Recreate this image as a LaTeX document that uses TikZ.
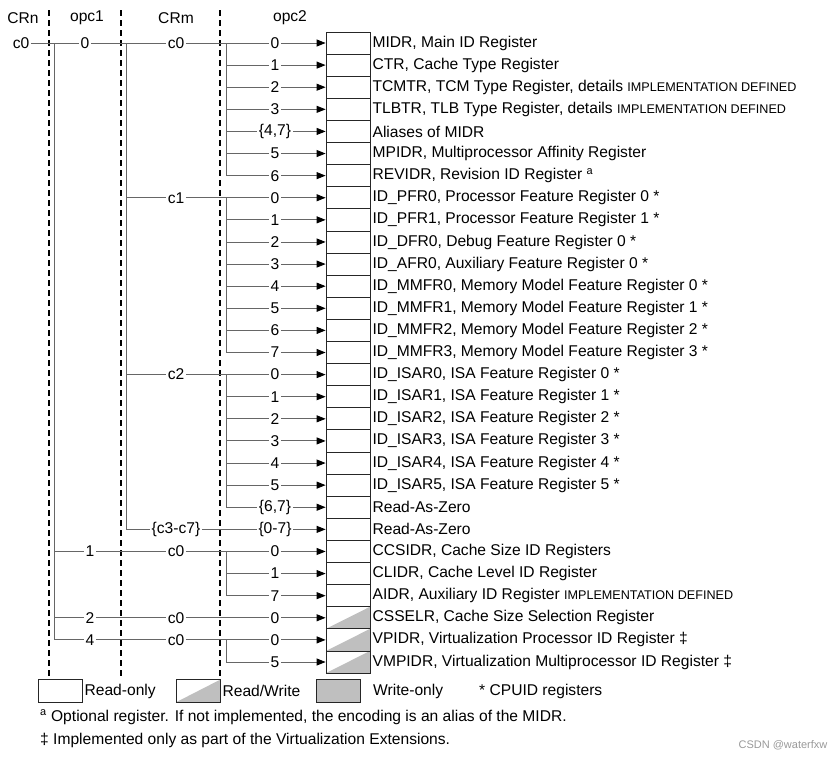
\documentclass[tikz,border=0pt]{standalone}
\usepackage{fontspec}
\setmainfont{Liberation Sans}
\usetikzlibrary{arrows.meta}

\newcommand{\regfont}{\fontsize{15.6}{18}\selectfont}
\newcommand{\impdef}{{\fontsize{12.6}{14}\selectfont IMPLEMENTATION DEFINED}}

\tikzset{
  rbox/.style={draw=black!85, line width=0.8pt, minimum width=44pt, minimum height=22.1pt, inner sep=0pt},
  rwbox/.style={rbox, path picture={\fill[black!25] (path picture bounding box.south west) -- (path picture bounding box.north east) -- (path picture bounding box.south east) -- cycle;}},
  wobox/.style={rbox, fill=black!25},
  rtxt/.style={anchor=west, inner sep=2pt, font=\regfont},
  lbl/.style={inner sep=1.5pt, font=\regfont},
  hdr/.style={font=\regfont},
  wire/.style={draw=black!60, line width=0.9pt},
  arr/.style={wire, -{Triangle[length=9pt,width=7pt,color=black]}},
  sep/.style={draw=black, line width=1.6pt, dash pattern=on 6pt off 4pt}
}

\begin{document}
\begin{tikzpicture}[x=1pt, y=-1pt]
\useasboundingbox (0,0) rectangle (836,761);

% column heads and separators
\node[hdr] (hcrn) at (23,18) {CRn};
\node[hdr] (hopa) at (87,18) {opc1};
\node[hdr] (hcrm) at (176,18) {CRm};
\node[hdr] (hopb) at (290,18) {opc2};
\draw[sep] (49,10) -- (49,676);
\draw[sep] (121,10) -- (121,676);
\draw[sep] (220,10) -- (220,676);

\begin{scope}[y=-22.107pt, yshift=-43pt]
% register boxes
\foreach \i in {0,...,25} \node[rbox] (b\i) at (348,\i) {};
\foreach \i in {26,27,28} \node[rwbox] (b\i) at (348,\i) {};

% register names
\node[rtxt] (t0) at (b0.east) {MIDR, Main ID Register};
\node[rtxt] (t1) at (b1.east) {CTR, Cache Type Register};
\node[rtxt] (t2) at (b2.east) {TCMTR, TCM Type Register, details \impdef};
\node[rtxt] (t3) at (b3.east) {TLBTR, TLB Type Register, details \impdef};
\node[rtxt] (t4) at (b4.east) {Aliases of MIDR};
\node[rtxt] (t5) at (b5.east) {MPIDR, Multiprocessor Affinity Register};
\node[rtxt] (t6) at (b6.east) {REVIDR, Revision ID Register \textsuperscript{a}};
\node[rtxt] (t7) at (b7.east) {ID\_PFR0, Processor Feature Register 0 *};
\node[rtxt] (t8) at (b8.east) {ID\_PFR1, Processor Feature Register 1 *};
\node[rtxt] (t9) at (b9.east) {ID\_DFR0, Debug Feature Register 0 *};
\node[rtxt] (t10) at (b10.east) {ID\_AFR0, Auxiliary Feature Register 0 *};
\node[rtxt] (t11) at (b11.east) {ID\_MMFR0, Memory Model Feature Register 0 *};
\node[rtxt] (t12) at (b12.east) {ID\_MMFR1, Memory Model Feature Register 1 *};
\node[rtxt] (t13) at (b13.east) {ID\_MMFR2, Memory Model Feature Register 2 *};
\node[rtxt] (t14) at (b14.east) {ID\_MMFR3, Memory Model Feature Register 3 *};
\node[rtxt] (t15) at (b15.east) {ID\_ISAR0, ISA Feature Register 0 *};
\node[rtxt] (t16) at (b16.east) {ID\_ISAR1, ISA Feature Register 1 *};
\node[rtxt] (t17) at (b17.east) {ID\_ISAR2, ISA Feature Register 2 *};
\node[rtxt] (t18) at (b18.east) {ID\_ISAR3, ISA Feature Register 3 *};
\node[rtxt] (t19) at (b19.east) {ID\_ISAR4, ISA Feature Register 4 *};
\node[rtxt] (t20) at (b20.east) {ID\_ISAR5, ISA Feature Register 5 *};
\node[rtxt] (t21) at (b21.east) {Read-As-Zero};
\node[rtxt] (t22) at (b22.east) {Read-As-Zero};
\node[rtxt] (t23) at (b23.east) {CCSIDR, Cache Size ID Registers};
\node[rtxt] (t24) at (b24.east) {CLIDR, Cache Level ID Register};
\node[rtxt] (t25) at (b25.east) {AIDR, Auxiliary ID Register \impdef};
\node[rtxt] (t26) at (b26.east) {CSSELR, Cache Size Selection Register};
\node[rtxt] (t27) at (b27.east) {VPIDR, Virtualization Processor ID Register ‡};
\node[rtxt] (t28) at (b28.east) {VMPIDR, Virtualization Multiprocessor ID Register ‡};

% CRn c0, opc1 0
\node[lbl] (crn) at (21,0) {c0};
\node[lbl] (o0) at (85,0) {0};
\node[lbl] (m0) at (176,0) {c0};
\node[lbl] (p0) at (275,0) {0};
\draw[wire] (crn) -- (o0);
\draw[wire] (o0) -- (m0);
\draw[wire] (m0) -- (p0);
\draw[arr] (p0) -- (b0);

% opc1 branches
\coordinate (va) at (54,0);
\coordinate (vb) at (54,27);
\draw[wire] (va) -- (vb);
\foreach \i/\v in {23/1,26/2,27/4} {
  \coordinate (q\i) at (54,\i);
  \node[lbl] (o\i) at (90,\i) {\v};
  \node[lbl] (m\i) at (176,\i) {c0};
  \node[lbl] (p\i) at (275,\i) {0};
  \draw[wire] (q\i) -- (o\i);
  \draw[wire] (o\i) -- (m\i);
  \draw[wire] (m\i) -- (p\i);
  \draw[arr] (p\i) -- (b\i);
}

% CRm branches
\coordinate (ma) at (126,0);
\coordinate (mb) at (126,22);
\draw[wire] (ma) -- (mb);
\foreach \i/\c/\v in {7/c1/0,15/c2/0,22/{\{c3-c7\}}/{\{0-7\}}} {
  \coordinate (r\i) at (126,\i);
  \node[lbl] (m\i) at (176,\i) {\c};
  \node[lbl] (p\i) at (275,\i) {\v};
  \draw[wire] (r\i) -- (m\i);
  \draw[wire] (m\i) -- (p\i);
  \draw[arr] (p\i) -- (b\i);
}

% opc2 branches
\foreach \a/\b in {0/6,7/14,15/21,23/25,27/28} {
  \coordinate (ga\a) at (226,\a);
  \coordinate (gb\a) at (226,\b);
  \draw[wire] (ga\a) -- (gb\a);
}
\foreach \i/\v in {1/1,2/2,3/3,4/{\{4,7\}},5/5,6/6,
    8/1,9/2,10/3,11/4,12/5,13/6,14/7,
    16/1,17/2,18/3,19/4,20/5,21/{\{6,7\}},
    24/1,25/7,28/5} {
  \coordinate (s\i) at (226,\i);
  \node[lbl] (p\i) at (275,\i) {\v};
  \draw[wire] (s\i) -- (p\i);
  \draw[arr] (p\i) -- (b\i);
}
\end{scope}

% legend
\node[rbox, minimum height=22.5pt] (lro) at (60,691) {};
\node[rtxt] (lrot) at (lro.east) {Read-only};
\node[rwbox, minimum height=22.5pt] (lrw) at (198,691) {};
\node[rtxt] (lrwt) at (lrw.east) {Read/Write};
\node[wobox, minimum height=22.5pt] (lwo) at (338,691) {};
\node[rtxt] (lwot) at (371,691) {Write-only};
\node[rtxt] (lcpu) at (477,691) {* CPUID registers};

% notes
\node[rtxt] (na) at (38,717) {\textsuperscript{a} Optional register. If not implemented, the encoding is an alias of the MIDR.};
\node[rtxt] (nb) at (38,740) {‡ Implemented only as part of the Virtualization Extensions.};
\node[text=black!40, font=\fontsize{11}{13}\selectfont] (wm) at (783,745) {CSDN @waterfxw};
\end{tikzpicture}
\end{document}
